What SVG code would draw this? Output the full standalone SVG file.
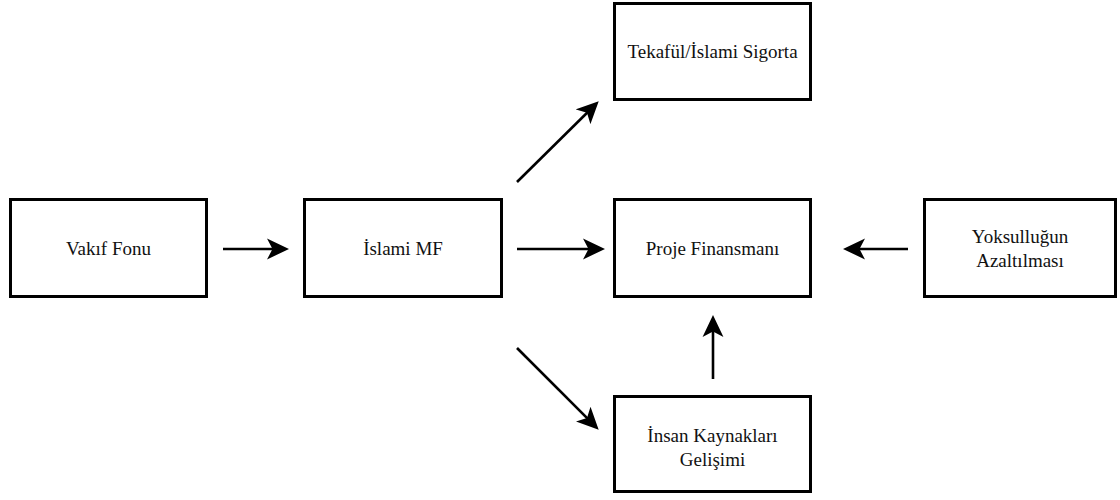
<svg xmlns="http://www.w3.org/2000/svg" width="1120" height="500" viewBox="0 0 1120 500">
<style>
.box{fill:#fff;stroke:#000;stroke-width:3}
.lbl{font-family:"Liberation Serif","Tinos","DejaVu Serif",serif;font-size:19px;fill:#111;text-anchor:middle}
.edge{stroke:#000;stroke-width:2.6;fill:none;marker-end:url(#ah)}
</style>
<defs>
<marker id="ah" markerUnits="userSpaceOnUse" markerWidth="22" markerHeight="22" viewBox="0 0 20 20" refX="10" refY="10" orient="auto">
<path d="M20,10 L0,0.5 L5,10 L0,19.5 Z" fill="#000"/>
</marker>
</defs>
<rect width="1120" height="500" fill="#fff"/>
<g id="connectors">
<line class="edge" x1="223" y1="249" x2="278" y2="249"/>
<line class="edge" x1="517" y1="249" x2="594" y2="249"/>
<line class="edge" x1="908" y1="249" x2="854" y2="249"/>
<line class="edge" x1="713" y1="379" x2="713" y2="326"/>
<line class="edge" x1="517" y1="182" x2="590.9" y2="109"/>
<line class="edge" x1="517" y1="348" x2="590.9" y2="421.9"/>
</g>
<g id="vakif">
<rect class="box" x="10.5" y="199.5" width="196" height="97"/>
<text class="lbl" x="108.5" y="255" font-family="Liberation Serif, serif">Vakıf Fonu</text>
</g>
<g id="islami-mf">
<rect class="box" x="304.5" y="199.5" width="197" height="97"/>
<text class="lbl" x="403" y="255">İslami MF</text>
</g>
<g id="proje">
<rect class="box" x="614.5" y="199.5" width="196" height="97"/>
<text class="lbl" x="712.5" y="255">Proje Finansmanı</text>
</g>
<g id="tekaful">
<rect class="box" x="614.5" y="3.5" width="196" height="96"/>
<text class="lbl" x="712.5" y="58">Tekafül/İslami Sigorta</text>
</g>
<g id="yoksul">
<rect class="box" x="924.5" y="199.5" width="191" height="97"/>
<text class="lbl" x="1020" y="243">Yoksulluğun</text>
<text class="lbl" x="1020" y="267">Azaltılması</text>
</g>
<g id="insan">
<rect class="box" x="614.5" y="396.5" width="196" height="95"/>
<text class="lbl" x="712.5" y="442">İnsan Kaynakları</text>
<text class="lbl" x="712.5" y="466">Gelişimi</text>
</g>
</svg>
